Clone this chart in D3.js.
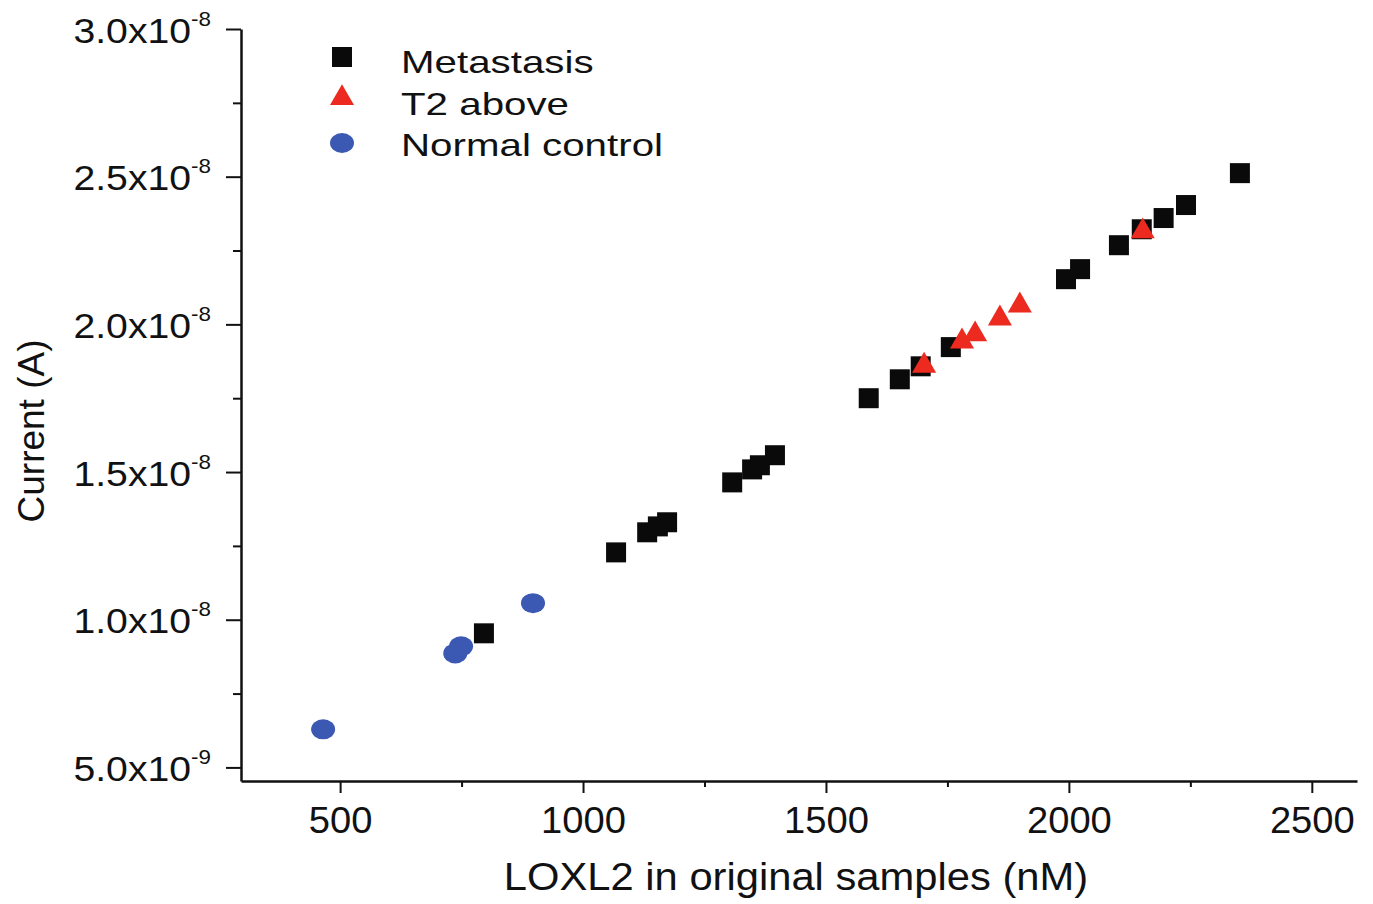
<!DOCTYPE html>
<html>
<head>
<meta charset="utf-8">
<script src="https://cdn.jsdelivr.net/npm/d3@7"></script>
<style>
  html, body { margin: 0; padding: 0; background: #fff; }
  svg text { font-family: "Liberation Sans", Arial, sans-serif; fill: #111; }
</style>
</head>
<body>
<div id="chart"></div>
<script>
// LOXL2 (nM) vs current (A)
const metastasisX = [796, 1068, 1132, 1154, 1173, 1307, 1348, 1364, 1395, 1588, 1652, 1695, 1757, 1994, 2023, 2103, 2150, 2195, 2241, 2352];
const metastasisY = [9.54e-9, 1.228e-8, 1.296e-8, 1.316e-8, 1.330e-8, 1.465e-8, 1.509e-8, 1.523e-8, 1.557e-8, 1.750e-8, 1.814e-8, 1.858e-8, 1.923e-8, 2.153e-8, 2.187e-8, 2.268e-8, 2.322e-8, 2.360e-8, 2.404e-8, 2.512e-8];

const t2X = [1702, 1780, 1807, 1858, 1899, 2152];
const t2Y = [1.860e-8, 1.942e-8, 1.966e-8, 2.020e-8, 2.064e-8, 2.315e-8];

const normalX = [465, 737, 749, 897];
const normalY = [6.29e-9, 8.86e-9, 9.10e-9, 1.056e-8];

const xTicks = [500, 1000, 1500, 2000, 2500];
const xMinorTicks = [750, 1250, 1750, 2250];
const yTicks = [5e-9, 1e-8, 1.5e-8, 2e-8, 2.5e-8, 3e-8];
const yTickMantissa = ['5.0', '1.0', '1.5', '2.0', '2.5', '3.0'];
const yTickExp = ['-9', '-8', '-8', '-8', '-8', '-8'];
const yMinorTicks = [7.5e-9, 1.25e-8, 1.75e-8, 2.25e-8, 2.75e-8];

const seriesNames = ['Metastasis', 'T2 above', 'Normal control'];
const seriesColors = ['#0a0a0a', '#ec2a1f', '#3b58b2'];

const width = 1373, height = 904;
const plot = { left: 241, right: 1357, top: 29, bottom: 781 };

const svg = d3.select('#chart').append('svg')
  .attr('width', width)
  .attr('height', height);

const x = d3.scaleLinear().domain([296, 2593]).range([plot.left, plot.right]);
const y = d3.scaleLinear().domain([4.54e-9, 3.0e-8]).range([plot.bottom, plot.top]);

// x axis
const xAxis = svg.append('g')
  .attr('transform', `translate(0,${plot.bottom})`)
  .call(d3.axisBottom(x).tickValues(xTicks).tickFormat(d3.format('d'))
    .tickSize(12).tickPadding(14).tickSizeOuter(0));
xAxis.select('.domain').attr('stroke', '#111').attr('stroke-width', 2.5);
xAxis.selectAll('.tick line').attr('stroke', '#111').attr('stroke-width', 2);
xAxis.selectAll('.tick text')
  .style('font-size', '36px')
  .attr('fill', '#111')
  .attr('transform', 'scale(1.06,1)');

svg.append('g')
  .attr('transform', `translate(0,${plot.bottom})`)
  .call(d3.axisBottom(x).tickValues(xMinorTicks).tickSize(6).tickFormat('').tickSizeOuter(0))
  .call(g => g.select('.domain').remove())
  .selectAll('.tick line').attr('stroke', '#111').attr('stroke-width', 2);

// y axis
const yAxis = svg.append('g')
  .attr('transform', `translate(${plot.left},0)`)
  .call(d3.axisLeft(y).tickValues(yTicks).tickSize(15).tickFormat('').tickSizeOuter(0));
yAxis.select('.domain').attr('stroke', '#111').attr('stroke-width', 2.5);
yAxis.selectAll('.tick line').attr('stroke', '#111').attr('stroke-width', 2);
yAxis.selectAll('.tick text').remove();
yAxis.selectAll('.tick').each(function(d, i) {
  const t = d3.select(this).append('text')
    .attr('transform', 'translate(-30,13) scale(1.12,1)')
    .attr('text-anchor', 'end')
    .attr('fill', '#111');
  t.append('tspan').style('font-size', '35px').text(yTickMantissa[i] + 'x10');
  t.append('tspan').attr('dy', -17).style('font-size', '20px').text(yTickExp[i]);
});

svg.append('g')
  .attr('transform', `translate(${plot.left},0)`)
  .call(d3.axisLeft(y).tickValues(yMinorTicks).tickSize(8).tickFormat('').tickSizeOuter(0))
  .call(g => g.select('.domain').remove())
  .selectAll('.tick line').attr('stroke', '#111').attr('stroke-width', 2);

// axis titles
svg.append('text')
  .attr('transform', 'translate(796,890) scale(1.07,1)')
  .attr('text-anchor', 'middle')
  .style('font-size', '39px')
  .text('LOXL2 in original samples (nM)');

svg.append('text')
  .attr('transform', 'translate(44,431) rotate(-90)')
  .attr('text-anchor', 'middle')
  .style('font-size', '37px')
  .text('Current (A)');

// points
const metastasis = metastasisX.map((v, i) => ({ x: v, y: metastasisY[i] }));
const t2 = t2X.map((v, i) => ({ x: v, y: t2Y[i] }));
const normal = normalX.map((v, i) => ({ x: v, y: normalY[i] }));

svg.append('g').selectAll('path')
  .data(metastasis)
  .enter()
  .append('path')
  .attr('d', d3.symbol().type(d3.symbolSquare).size(400))
  .attr('transform', d => `translate(${x(d.x)},${y(d.y)})`)
  .attr('fill', seriesColors[0]);

svg.append('g').selectAll('path')
  .data(t2)
  .enter()
  .append('path')
  .attr('d', d3.symbol().type(d3.symbolTriangle).size(250))
  .attr('transform', d => `translate(${x(d.x)},${y(d.y)})`)
  .attr('fill', seriesColors[1]);

svg.append('g').selectAll('ellipse')
  .data(normal)
  .enter()
  .append('ellipse')
  .attr('cx', d => x(d.x))
  .attr('cy', d => y(d.y))
  .attr('rx', 12)
  .attr('ry', 10)
  .attr('fill', seriesColors[2]);

// legend
const legend = svg.append('g');
const legendRows = [57, 98, 143];
legend.append('path')
  .attr('d', d3.symbol().type(d3.symbolSquare).size(400))
  .attr('transform', `translate(342,${legendRows[0]})`)
  .attr('fill', seriesColors[0]);
legend.append('path')
  .attr('d', d3.symbol().type(d3.symbolTriangle).size(250))
  .attr('transform', `translate(342,${legendRows[1]})`)
  .attr('fill', seriesColors[1]);
legend.append('ellipse')
  .attr('cx', 342).attr('cy', legendRows[2])
  .attr('rx', 12).attr('ry', 10)
  .attr('fill', seriesColors[2]);

[73, 115, 156].forEach((by, i) => {
  legend.append('text')
    .attr('transform', `translate(401,${by}) scale(1.26,1)`)
    .style('font-size', '32px')
    .text(seriesNames[i]);
});
</script>
</body>
</html>
